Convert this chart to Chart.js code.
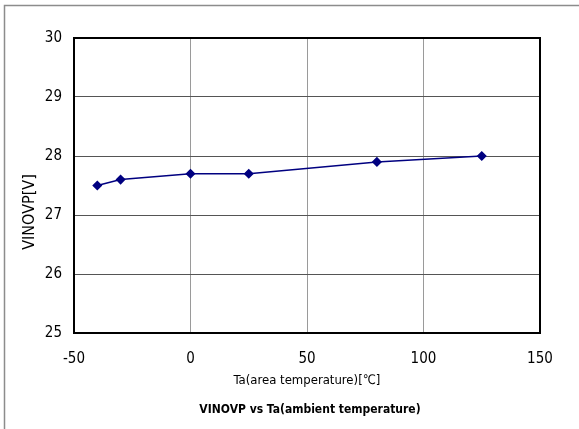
<!DOCTYPE html>
<html lang="en">
<head>
    <meta charset="UTF-8">
    <title>VINOVP vs Ta</title>
    <script src="https://cdn.jsdelivr.net/npm/chart.js"></script>
    <style>
        body { margin: 0; background: #fff; }
    </style>
</head>
<body>
    <canvas id="vinovpChart" width="579" height="429"></canvas>

    <script>
        // data
        var tempPoints = [-40, -30, 0, 25, 80, 125];
        var vinovpValues = [27.5, 27.6, 27.7, 27.7, 27.9, 28.0];
        var xTicks = [-50, 0, 50, 100, 150];
        var yTicks = [25, 26, 27, 28, 29, 30];

        var yTitle = 'VINOVP[V]';
        var xTitle = 'Ta(area temperature)[℃]';
        var captionText = 'VINOVP vs Ta(ambient temperature)';

        var fontFamily = '"Liberation Sans Narrow", "DejaVu Sans Condensed", "Liberation Sans", sans-serif';

        // frame, plot border, rotated y title and bottom caption
        var decorPlugin = {
            id: 'decor',
            beforeDraw: function (chart) {
                var ctx = chart.ctx;
                ctx.save();
                ctx.strokeStyle = '#8c8c8c';
                ctx.lineWidth = 1.5;
                ctx.beginPath();
                ctx.moveTo(4.5, 429);
                ctx.lineTo(4.5, 5.5);
                ctx.lineTo(579, 5.5);
                ctx.stroke();
                ctx.restore();
            },
            afterDraw: function (chart) {
                var ctx = chart.ctx;
                var a = chart.chartArea;
                ctx.save();
                ctx.strokeStyle = '#000';
                ctx.lineWidth = 2;
                ctx.strokeRect(a.left, a.top, a.right - a.left, a.bottom - a.top);

                ctx.fillStyle = '#000';
                ctx.textAlign = 'center';
                ctx.textBaseline = 'middle';
                ctx.font = '16px ' + fontFamily;
                ctx.translate(30, 212);
                ctx.rotate(-Math.PI / 2);
                ctx.fillText(yTitle, 0, 0);
                ctx.restore();

                ctx.save();
                ctx.fillStyle = '#000';
                ctx.textAlign = 'center';
                ctx.textBaseline = 'middle';
                ctx.font = 'bold 12px ' + fontFamily;
                ctx.fillText(captionText, 310, 410);
                ctx.restore();
            }
        };

        var ctx = document.getElementById('vinovpChart').getContext('2d');
        var vinovpChart = new Chart(ctx, {
            type: 'line',
            data: {
                datasets: [{
                    label: 'VINOVP',
                    data: tempPoints.map(function (t, i) { return { x: t, y: vinovpValues[i] }; }),
                    borderColor: '#000080',
                    backgroundColor: '#000080',
                    borderWidth: 1.5,
                    pointStyle: 'rectRot',
                    pointRadius: 4,
                    pointHoverRadius: 4,
                    tension: 0,
                    fill: false
                }]
            },
            options: {
                responsive: false,
                animation: false,
                devicePixelRatio: 1,
                layout: {
                    padding: { top: 38, right: 39, bottom: 31, left: 0 }
                },
                plugins: {
                    legend: { display: false },
                    tooltip: { enabled: false },
                    title: { display: false }
                },
                scales: {
                    x: {
                        type: 'linear',
                        min: -50,
                        max: 150,
                        afterBuildTicks: function (scale) {
                            scale.ticks = xTicks.map(function (v) { return { value: v }; });
                        },
                        afterFit: function (scale) { scale.height = 65; },
                        ticks: {
                            padding: 17,
                            color: '#000',
                            maxRotation: 0,
                            font: { family: fontFamily, size: 15 }
                        },
                        grid: { color: '#9a9a9a', lineWidth: 1, drawTicks: false },
                        border: { display: false },
                        title: {
                            display: true,
                            text: xTitle,
                            color: '#000',
                            font: { family: fontFamily, size: 13 },
                            padding: { top: 0, bottom: 10 }
                        }
                    },
                    y: {
                        min: 25,
                        max: 30,
                        afterBuildTicks: function (scale) {
                            scale.ticks = yTicks.map(function (v) { return { value: v }; });
                        },
                        afterFit: function (scale) { scale.width = 74; },
                        ticks: {
                            padding: 12,
                            color: '#000',
                            font: { family: fontFamily, size: 15 }
                        },
                        grid: { color: '#555', lineWidth: 1, drawTicks: false },
                        border: { display: false }
                    }
                }
            },
            plugins: [decorPlugin]
        });
    </script>
</body>
</html>
